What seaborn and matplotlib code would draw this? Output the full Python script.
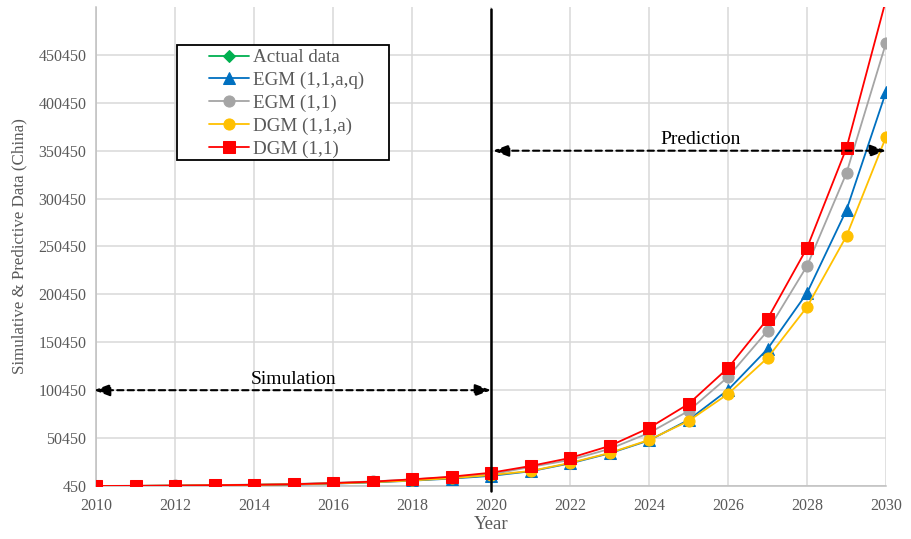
import matplotlib
matplotlib.use("Agg")
import matplotlib.pyplot as plt
from matplotlib.patches import Rectangle
import seaborn as sns
import pandas as pd

# Years covered by simulation (2010-2020) and prediction (2021-2030)
years = list(range(2010, 2031))
actual_years = list(range(2010, 2021))

actual = [450, 560, 850, 1250, 1700, 2300, 3300, 4600, 6500, 8800, 11600]
egm_aq = [450, 480, 720, 1050, 1450, 2000, 2900, 4200, 6000, 8200, 11000,
          15800, 24000, 34500, 48000, 69400, 100700, 143500, 201900, 288600, 411800]
egm = [450, 700, 1000, 1400, 1900, 2600, 3700, 5200, 7300, 9800, 12600,
       20300, 27600, 39100, 55800, 78750, 114250, 162300, 230100, 327200, 462900]
dgm_a = [450, 520, 800, 1150, 1600, 2200, 3100, 4400, 6200, 8600, 11900,
         16100, 24500, 34900, 48500, 68300, 96500, 134100, 187300, 261450, 364800]
dgm = [450, 600, 900, 1300, 1700, 2300, 3500, 5000, 7400, 10200, 14300,
       21300, 29700, 42200, 61000, 86050, 123600, 174800, 248900, 353300, 508000]

x_ticks = list(range(2010, 2031, 2))
y_ticks = list(range(450, 450451, 50000))

series = [
    ("Actual data", actual_years, actual, "#00B050", "D", 6.5),
    ("EGM (1,1,a,q)", years, egm_aq, "#0070C0", "^", 8),
    ("EGM (1,1)", years, egm, "#A5A5A5", "o", 8),
    ("DGM (1,1,a)", years, dgm_a, "#FFC000", "o", 8),
    ("DGM (1,1)", years, dgm, "#FF0000", "s", 8.5),
]

sns.set_theme(style="white")
plt.rcParams["font.family"] = ["Liberation Serif", "DejaVu Serif"]
text_color = "#595959"

fig = plt.figure(figsize=(9.11, 5.39), dpi=100)
ax = fig.add_axes([96 / 911, 1 - 486 / 539, 790 / 911, 479 / 539])

for name, xs, ys, color, marker, ms in series:
    df = pd.DataFrame({"Year": xs, "Value": ys})
    sns.lineplot(data=df, x="Year", y="Value", ax=ax, color=color, marker=marker,
                 markersize=ms, markeredgecolor=color, linewidth=1.3, label=name,
                 zorder=3)

ax.set_xlim(2010, 2030)
ax.set_ylim(450, 500450)
ax.set_xticks(x_ticks)
ax.set_yticks(y_ticks)
ax.set_xticklabels([str(v) for v in x_ticks], fontsize=11.5, color=text_color)
ax.set_yticklabels([str(v) for v in y_ticks], fontsize=11.5, color=text_color)
ax.tick_params(axis="x", length=0, pad=9)
ax.tick_params(axis="y", length=0, pad=7)
ax.grid(True, color="#D9D9D9", linewidth=1.1)
ax.set_axisbelow(True)
for side in ["top", "right"]:
    ax.spines[side].set_visible(False)
for side in ["left", "bottom"]:
    ax.spines[side].set_color("#BFBFBF")
    ax.spines[side].set_linewidth(1.1)

ax.set_xlabel("Year", fontsize=13.5, color=text_color, labelpad=1)
ax.set_ylabel("Simulative & Predictive Data (China)", fontsize=12.2,
              color=text_color, labelpad=8)

# Boundary between simulation and prediction
ax.axvline(2020, ymin=-0.01, ymax=0.995, color="black", linewidth=1.8,
           zorder=4, clip_on=False)

arrow_kw = dict(arrowstyle="<|-|>,head_length=0.8,head_width=0.3",
                color="black", linestyle=(0, (3, 2)), linewidth=1.5,
                shrinkA=0, shrinkB=0)
ax.annotate("", xy=(2009.95, 100450), xytext=(2020, 100450),
            arrowprops=arrow_kw, zorder=5, annotation_clip=False)
ax.annotate("", xy=(2020.05, 350450), xytext=(2030, 350450),
            arrowprops=arrow_kw, zorder=5, annotation_clip=False)
ax.text(2015, 103000, "Simulation", ha="center", va="bottom",
        fontsize=14, color="black")
ax.text(2025.3, 353500, "Prediction", ha="center", va="bottom",
        fontsize=14, color="black")

# Legend box with wide side margins
ax.add_patch(Rectangle((177 / 911, 1 - 160 / 539), 212 / 911, 115 / 539,
                       transform=fig.transFigure, facecolor="white",
                       edgecolor="black", linewidth=1.3, zorder=6,
                       clip_on=False))
leg = ax.legend(loc="upper left", bbox_to_anchor=(209 / 911, 1 - 49 / 539),
                bbox_transform=fig.transFigure,
                fontsize=13.7, frameon=False, borderpad=0,
                labelspacing=0.29, handlelength=2.1,
                handletextpad=0.2, borderaxespad=0)
leg.set_zorder(7)
for t in leg.get_texts():
    t.set_color(text_color)

fig.savefig("out.png", dpi=100)
